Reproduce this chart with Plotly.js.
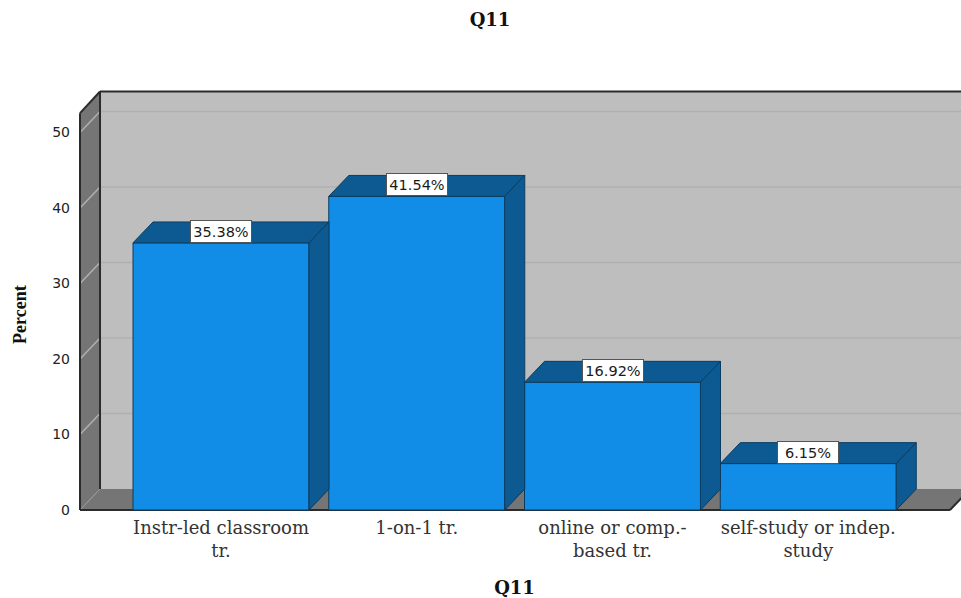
<!DOCTYPE html>
<html>
<head>
<meta charset="utf-8">
<script src="https://cdn.plot.ly/plotly-3.0.1.min.js"></script>
<style>html,body{margin:0;padding:0;background:#fff;overflow:hidden}#chart{width:961px;height:598px}</style>
</head>
<body>
<div id="chart"></div>
<script>
// Survey results for Q11, drawn as a bar chart with an extruded 3D look.
const categories = ["Instr-led classroom<br>tr.", "1-on-1 tr.", "online or comp.-<br>based tr.", "self-study or indep.<br>study"];
const percents = [35.38, 41.54, 16.92, 6.15];
const yTicks = [0, 10, 20, 30, 40, 50];

// Extrusion offset and frame extents, in axis units.
const depthX = 0.1022, depthY = 2.77;
const barWidth = 0.899;
const xMin = -0.7816, xMax = 3.7803, yMin = -0.397, yMax = 55.76;
const frontLeft = -0.7203, frontRight = 3.7241;
const backLeft = frontLeft + depthX, backRight = frontRight + depthX;
const wallTop = yMax - 0.33;
const frontTop = wallTop - depthY - 0.1;

const positions = categories.map((_, i) => i);
const colors = {face: "#118de8", shade: "#0c5a91", edge: "#0b3c60", wall: "#bebebe", side: "#757575", frame: "#2b2b2b", grid: "#b0b0b0"};

function poly(xs, ys, fill, lineColor, width, layer) {
  const path = xs.map((x, i) => (i ? "L" : "M") + x + "," + ys[i]).join(" ") + " Z";
  return {type: "path", xref: "x", yref: "y", path, fillcolor: fill, line: {color: lineColor, width: width}, layer: layer || "below"};
}
function seg(x0, y0, x1, y1, color, width) {
  return {type: "line", xref: "x", yref: "y", x0, y0, x1, y1, line: {color, width}, layer: "below"};
}

// Back wall, left wall and floor of the chart box.
const shapes = [
  poly([backLeft, xMax + 1, xMax + 1, backLeft], [depthY, depthY, wallTop, wallTop], colors.wall, colors.wall, 0),
  poly([frontLeft, backLeft, backLeft, frontLeft], [0, depthY, wallTop, frontTop], colors.side, colors.side, 0),
  poly([frontLeft, frontRight, backRight, backLeft], [0, 0, depthY, depthY], colors.side, colors.side, 0)
];
// Grid lines wrap from the left wall onto the back wall.
yTicks.forEach(v => {
  if (v > 0) {
    shapes.push(seg(backLeft, v + depthY, xMax + 1, v + depthY, colors.grid, 1.5));
    shapes.push(seg(frontLeft, v, backLeft, v + depthY, colors.grid, 1.5));
  }
});
shapes.push(seg(frontLeft, 0, backLeft, depthY, "#9a9a9a", 1));
shapes.push(seg(frontLeft, 0, frontLeft, frontTop, colors.frame, 2));
shapes.push(seg(backLeft, depthY, backLeft, wallTop, colors.frame, 2));
shapes.push(seg(frontLeft, frontTop, backLeft, wallTop, colors.frame, 2));
shapes.push(seg(backLeft, wallTop, xMax + 1, wallTop, colors.frame, 2));
shapes.push(seg(frontLeft, 0, frontRight, 0, colors.frame, 2));
shapes.push(seg(frontRight, 0, backRight, depthY, colors.frame, 2));

// Front faces of the bars.
const traces = [{
  type: "bar",
  x: positions,
  y: percents,
  width: barWidth,
  marker: {color: colors.face, line: {color: colors.edge, width: 1}},
  hoverinfo: "skip"
}];

// Top and right faces of each bar, offset from its value by the extrusion depth.
percents.forEach((v, i) => {
  const l = i - barWidth / 2, r = i + barWidth / 2;
  const face = (xs, ys) => ({
    type: "scatter", mode: "lines", x: xs, y: ys, fill: "toself", fillcolor: colors.shade,
    line: {color: colors.edge, width: 1}, hoverinfo: "skip"
  });
  traces.push(face([l, r, r + depthX, l + depthX, l], [v, v, v + depthY, v + depthY, v]));
  traces.push(face([r, r + depthX, r + depthX, r, r], [0, depthY, v + depthY, v, 0]));
});

// Value labels sit on the top face of each bar.
const annotations = percents.map((v, i) => ({
  x: i, y: v + depthY / 2 + 0.13, xref: "x", yref: "y",
  text: v.toFixed(2) + "%", showarrow: false,
  font: {family: "DejaVu Sans", size: 14.5, color: "#1a1a1a"},
  bgcolor: "#ffffff", bordercolor: "#555555", borderwidth: 1, borderpad: 1,
  width: 58, height: 19
}));
annotations.push({
  xref: "paper", yref: "paper", x: (20 - 68) / 893, y: (513 - 315) / 424, xanchor: "center", yanchor: "middle",
  text: "<b>Percent</b>", textangle: -90, showarrow: false,
  font: {family: "Liberation Serif", size: 18, color: "#111111"}
});

const layout = {
  width: 961, height: 598,
  margin: {l: 68, r: 0, t: 89, b: 85},
  paper_bgcolor: "#ffffff", plot_bgcolor: "#ffffff",
  showlegend: false,
  title: {text: "<b>Q11</b>", x: 490 / 961, xanchor: "center", y: 1 - 20 / 598, yanchor: "middle",
          font: {family: "DejaVu Serif", size: 18, color: "#111111"}},
  xaxis: {
    range: [xMin, xMax], tickmode: "array", tickvals: positions, ticktext: categories,
    showgrid: false, zeroline: false, showline: false, ticks: "", ticklen: 0, ticklabelstandoff: 2,
    tickfont: {family: "DejaVu Serif", size: 18, color: "#333333"},
    title: {text: "<b>Q11</b>", standoff: 24, font: {family: "DejaVu Serif", size: 18, color: "#111111"}},
    automargin: false
  },
  yaxis: {
    range: [yMin, yMax], tickmode: "array", tickvals: yTicks,
    showgrid: false, zeroline: false, showline: false, ticks: "", ticklabelstandoff: -3,
    tickfont: {family: "DejaVu Sans", size: 14, color: "#222222"},
    automargin: false
  },
  shapes, annotations
};

Plotly.newPlot("chart", traces, layout, {displayModeBar: false, staticPlot: true});
</script>
</body>
</html>
